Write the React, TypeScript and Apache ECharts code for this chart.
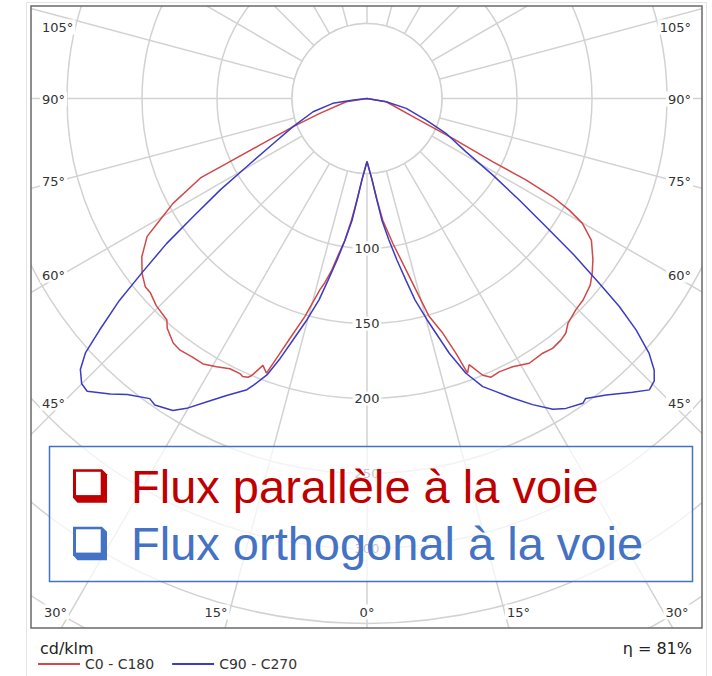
import React, { useEffect, useRef } from 'react';
import * as echarts from 'echarts';

// Luminous intensity (cd/klm), [gamma (deg from nadir), intensity]
const C0: [number, number][] = [
  [0, 42], [3.5, 54], [5.6, 68], [7.4, 82], [10.1, 98], [12.8, 117], [14.8, 137], [15.9, 151],
  [17.9, 164.5], [19.25, 180], [20.1, 195], [21, 190], [22.7, 200], [24, 203.4], [25.8, 202.4],
  [28.5, 203.5], [31.5, 207], [34.6, 206.3], [36.6, 207.5], [38.8, 206.5], [40.3, 205], [41.8, 201],
  [44.7, 198], [47, 197], [50.1, 194], [52.2, 190], [54.5, 185], [57.7, 177], [59.9, 166],
  [61.1, 154], [62.1, 140], [62.9, 119], [63.3, 94], [65.1, 63], [68, 35], [80.4, 13], [90, 0],
];
const C180: [number, number][] = [
  [0, 42], [3.5, 54], [5.6, 68], [7.3, 82], [8.9, 96], [10.4, 106], [11.6, 117], [12.9, 126],
  [13.8, 131], [15.9, 151], [17.4, 164], [18.9, 180], [20.1, 195], [21.3, 191], [22.6, 200],
  [23.1, 202], [24.1, 203], [24.8, 202], [26.9, 202], [29.3, 205], [31.7, 208], [34.2, 208],
  [36.6, 209], [38.4, 208], [41, 203], [42.1, 199], [45.5, 197], [48.1, 194], [49.6, 194],
  [52.1, 190], [54.9, 183.5], [57.9, 173], [59.6, 160], [61.6, 147], [64.5, 123], [65.2, 103],
  [66.5, 78], [69.1, 53], [72.5, 33], [81, 14], [90, 0],
];
const C90: [number, number][] = [
  [0, 42], [3.5, 54], [5.6, 68], [7.0, 82], [8.8, 95.5], [10.5, 109.5], [12.1, 124], [13.4, 138],
  [15.2, 153], [17.9, 178.5], [19.8, 194.7], [21.9, 207], [23.75, 213.5], [25.9, 222], [28.4, 232],
  [30.9, 241.4], [32.7, 245.5], [35.3, 249], [36.1, 247.5], [38.9, 254], [42.1, 264], [44.1, 270.5],
  [45.5, 268.5], [46.6, 263.5], [47.9, 253.5], [49.3, 236.6], [50.5, 218], [51.5, 198], [53, 171.6],
  [54.4, 146.8], [56.3, 122], [58.7, 98], [61.7, 75], [66.2, 57.5], [70, 42], [75.9, 27], [80.4, 13], [90, 0],
];
const C270: [number, number][] = [
  [0, 42], [3.5, 54], [5.6, 68], [7.0, 82], [8.8, 95.5], [10.5, 109.5], [12.1, 124], [13.4, 138],
  [15.2, 153], [17, 168], [18.6, 184], [19.9, 196], [21.5, 205], [22.4, 210], [25.3, 219],
  [27.9, 229], [30.2, 239], [31.9, 245], [34.7, 248.5], [35.9, 247], [39, 254], [41, 261],
  [43.7, 270], [45, 269], [46.6, 263], [47.9, 253], [49.1, 236], [50.8, 213], [52.3, 189],
  [54.1, 165], [55.8, 140], [58.1, 115], [60.5, 92], [64.4, 69], [69.1, 53], [76.2, 37],
  [81.9, 23], [84, 9], [90, 0],
];

const SERIES_NAMES = ['C0 - C180', 'C90 - C270'];
const RADIUS_LABELS = [100, 150, 200, 250, 300];
const SIDE_ANGLE_LABELS = ['105°', '90°', '75°', '60°', '45°'];
const BOTTOM_ANGLE_LABELS = ['30°', '15°', '0°', '15°', '30°'];
const LEGEND_TEXTS = ['Flux parallèle à la voie', 'Flux orthogonal à la voie'];
const UNIT_TEXT = 'cd/klm';
const EFFICIENCY_TEXT = 'η = 81%';

const RED = '#d04848';
const BLUE = '#3b3bc4';
const GRID = '#d2d2d2';
const LBL = '#333333';
const FONT = '"DejaVu Sans", Verdana, sans-serif';

function toPolar(left: [number, number][], right: [number, number][]) {
  const a = left.slice().reverse().map(([g, v]) => [v, g]);
  const b = right.map(([g, v]) => [v, 360 - g]);
  return [...a, ...b];
}

export default function App() {
  const ref = useRef<HTMLDivElement>(null);
  useEffect(() => {
    if (!ref.current) return;
    const chart = echarts.init(ref.current, undefined, { renderer: 'svg' });
    const cx = 367;
    const cy = 98.5;

    const sideY = [27, 99, 181, 275, 403];
    const bottomX = [55.5, 216, 367, 518.5, 677];

    const labelStyle = (text: string, x: number, y: number, align: string) => ({
      type: 'text',
      z: 52,
      style: {
        text, x, y, align, verticalAlign: 'middle',
        fill: LBL, font: `13px ${FONT}`,
        backgroundColor: '#fff', padding: [1, 2],
      },
    });

    const graphics: any[] = [
      // white centre disc (grid starts at the 50 circle)
      { type: 'circle', z: 1, shape: { cx, cy, r: 75 }, style: { fill: '#fff', stroke: GRID, lineWidth: 1.5 } },
      // masks outside the frame
      { type: 'rect', z: 50, shape: { x: 0, y: 0, width: 712, height: 6 }, style: { fill: '#fff' } },
      { type: 'rect', z: 50, shape: { x: 0, y: 0, width: 31, height: 676 }, style: { fill: '#fff' } },
      { type: 'rect', z: 50, shape: { x: 702, y: 0, width: 10, height: 676 }, style: { fill: '#fff' } },
      { type: 'rect', z: 50, shape: { x: 0, y: 628, width: 712, height: 48 }, style: { fill: '#fff' } },
      { type: 'rect', z: 51, shape: { x: 26.5, y: 2.5, width: 680, height: 680 }, style: { fill: 'none', stroke: '#e4e4e4', lineWidth: 1 } },
      { type: 'rect', z: 51, shape: { x: 31, y: 6, width: 671, height: 622 }, style: { fill: 'none', stroke: '#6a6a6a', lineWidth: 1.5 } },
    ];
    SIDE_ANGLE_LABELS.forEach((t, i) => {
      graphics.push(labelStyle(t, 40, sideY[i], 'left'));
      graphics.push(labelStyle(t, 693, sideY[i], 'right'));
    });
    BOTTOM_ANGLE_LABELS.forEach((t, i) => {
      graphics.push(labelStyle(t, bottomX[i], 612, 'center'));
    });

    // overlay legend box
    graphics.push({
      type: 'rect', z: 60,
      shape: { x: 49.5, y: 446.5, width: 643, height: 135 },
      style: { fill: 'rgba(255,255,255,0.72)', stroke: '#4472C4', lineWidth: 1.5 },
    });
    const legendCols = ['#C00000', '#4472C4'];
    const legendY = [469.3, 526.8];
    LEGEND_TEXTS.forEach((t, i) => {
      const y0 = legendY[i];
      graphics.push({
        type: 'polygon', z: 61,
        shape: { points: [[73, y0], [102, y0], [107, y0 + 5], [107, y0 + 33.5], [77.5, y0 + 33.5], [73, y0 + 28.5]] },
        style: { fill: legendCols[i] },
      });
      graphics.push({
        type: 'rect', z: 62,
        shape: { x: 76, y: y0 + 2.5, width: 24.7, height: 23.3 },
        style: { fill: '#fff' },
      });
      graphics.push({
        type: 'text', z: 62,
        style: {
          text: t, x: 131, y: y0 + 17, verticalAlign: 'middle', align: 'left',
          fill: legendCols[i], font: '47px "Liberation Sans", Arial, sans-serif',
        },
      });
    });
    graphics.push({
      type: 'text', z: 62,
      style: { text: UNIT_TEXT, x: 40, y: 648, verticalAlign: 'middle', fill: '#222', font: `16px ${FONT}` },
    });
    graphics.push({
      type: 'text', z: 62,
      style: { text: EFFICIENCY_TEXT, x: 692, y: 648, align: 'right', verticalAlign: 'middle', fill: '#222', font: `16px ${FONT}` },
    });

    chart.setOption({
      animation: false,
      backgroundColor: '#fff',
      polar: { center: [cx, cy], radius: 675 },
      angleAxis: {
        type: 'value', min: 0, max: 360, interval: 15, startAngle: 270, clockwise: true,
        axisLine: { show: false }, axisTick: { show: false }, axisLabel: { show: false },
        splitLine: { show: true, lineStyle: { color: GRID, width: 1.5 } },
      },
      radiusAxis: {
        type: 'value', min: 0, max: 450, interval: 50,
        axisLine: { show: false }, axisTick: { show: false },
        splitLine: { show: true, lineStyle: { color: GRID, width: 1.5 } },
        axisLabel: {
          show: true, customValues: RADIUS_LABELS, margin: 0, align: 'center', verticalAlign: 'middle',
          lineHeight: 3, fontFamily: 'DejaVu Sans', fontSize: 13, color: LBL,
          backgroundColor: '#fff', padding: [9, 2, 2, 2],
        },
      },
      legend: {
        z: 70, left: 33, top: 652, itemWidth: 42, itemHeight: 2, itemGap: 18, icon: 'rect',
        textStyle: { fontFamily: 'DejaVu Sans', fontSize: 14, color: '#333' },
        data: SERIES_NAMES,
      },
      series: [
        {
          name: SERIES_NAMES[0], type: 'line', coordinateSystem: 'polar', showSymbol: false, symbol: 'none',
          data: toPolar(C180, C0), color: RED, lineStyle: { color: RED, width: 1.5 }, z: 2,
        },
        {
          name: SERIES_NAMES[1], type: 'line', coordinateSystem: 'polar', showSymbol: false, symbol: 'none',
          data: toPolar(C270, C90), color: BLUE, lineStyle: { color: BLUE, width: 1.5 }, z: 3,
        },
      ],
      graphic: { elements: graphics },
    });
    return () => chart.dispose();
  }, []);
  return (
    <div
      ref={ref}
      style={{ position: 'fixed', left: 0, top: 0, width: 712, height: 676, background: '#fff' }}
    />
  );
}
